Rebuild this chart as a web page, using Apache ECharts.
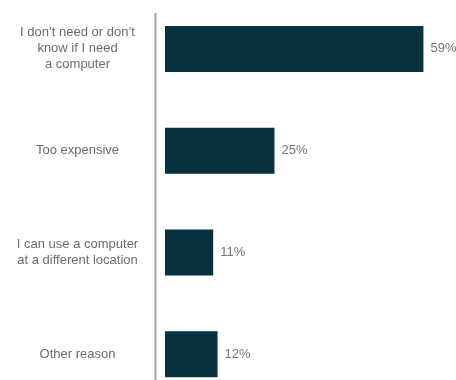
<!DOCTYPE html>
<html>
<head>
<meta charset="utf-8">
<style>
  html, body { margin: 0; padding: 0; background: #fff; }
  #chart { width: 456px; height: 380px; }
</style>
<script src="https://cdn.jsdelivr.net/npm/echarts@6/dist/echarts.min.js"></script>
</head>
<body>
<div id="chart"></div>
<script>
// Reasons for not having a computer (share of respondents, %)
const categories = [
  'I don’t need or don’t\nknow if I need\na computer',
  'Too expensive',
  'I can use a computer\nat a different location',
  'Other reason'
];
const values = [59, 25, 11, 12];

const chart = echarts.init(document.getElementById('chart'), null, { renderer: 'canvas' });

chart.setOption({
  animation: false,
  grid: {
    left: 165, top: -2, width: 438, height: 407,
    containLabel: false,
    outerBoundsMode: 'none'
  },
  xAxis: {
    type: 'value', min: 0, max: 100,
    show: false
  },
  yAxis: {
    type: 'category',
    data: categories,
    inverse: true,
    axisLine: { show: false },
    axisTick: { show: false },
    axisLabel: {
      margin: 87.5,
      align: 'center',
      color: '#6b6b6b',
      fontFamily: 'Liberation Sans, Arial, sans-serif',
      fontSize: 13,
      lineHeight: 16
    }
  },
  series: [{
    type: 'bar',
    data: values,
    barWidth: 46,
    itemStyle: { color: '#06313e' },
    label: {
      show: true,
      position: 'right',
      distance: 7,
      formatter: '{c}%',
      color: '#747474',
      fontFamily: 'Liberation Sans, Arial, sans-serif',
      fontSize: 13
    }
  }],
  graphic: [{
    type: 'line',
    shape: { x1: 155.5, y1: 13, x2: 155.5, y2: 380 },
    style: { stroke: '#a6a6a6', lineWidth: 2 }
  }]
});
</script>
</body>
</html>
